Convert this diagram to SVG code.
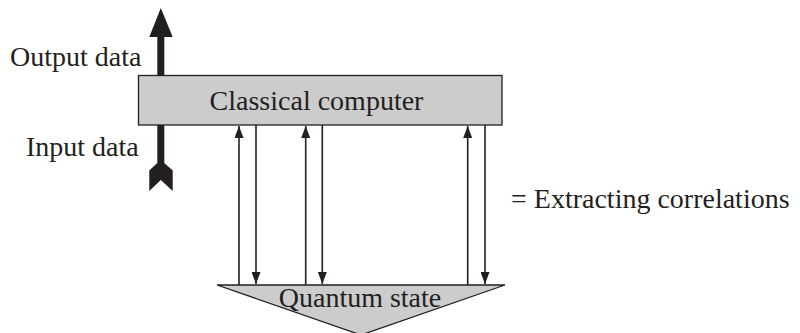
<svg xmlns="http://www.w3.org/2000/svg" width="800" height="333" viewBox="0 0 800 333">
<style>
  text { font-family: "Liberation Serif", "Times New Roman", serif; font-size: 28px; fill: #231f20; }
  .shape { fill: #cccccc; stroke: #231f20; stroke-width: 1.3; }
  .thin { stroke: #231f20; stroke-width: 1.6; fill: none; }
  .thick { fill: #231f20; }
</style>
<defs>
  <marker id="ah" markerUnits="userSpaceOnUse" viewBox="0 0 12 9" refX="12" refY="4.5" markerWidth="12" markerHeight="9" orient="auto">
    <path d="M0,0 L12,4.5 L0,9 Z" fill="#231f20"/>
  </marker>
</defs>
<rect width="800" height="333" fill="#ffffff"/>
<g id="io-arrows">
  <polygon class="thick" points="160.8,8 172.7,37 164.3,37 164.3,76 157.3,76 157.3,37 149.3,37"/>
  <polygon class="thick" points="157.3,124 164.3,124 164.3,163 172.7,170.5 172.7,191 160.8,180 149.3,191 149.3,170.5 157.3,163"/>
</g>
<g id="classical-computer">
  <rect class="shape" x="138.5" y="75.5" width="363.5" height="49.5"/>
  <text x="316.5" y="110" text-anchor="middle">Classical computer</text>
</g>
<g id="quantum-state">
  <polygon class="shape" points="217,285 505,285 361,335"/>
  <text x="360" y="307" text-anchor="middle">Quantum state</text>
</g>
<g id="connectors">
  <line class="thin" x1="239" y1="285" x2="239" y2="126" marker-end="url(#ah)"/>
  <line class="thin" x1="256" y1="125" x2="256" y2="284" marker-end="url(#ah)"/>
  <line class="thin" x1="305.7" y1="285" x2="305.7" y2="126" marker-end="url(#ah)"/>
  <line class="thin" x1="322.3" y1="125" x2="322.3" y2="284" marker-end="url(#ah)"/>
  <line class="thin" x1="467.7" y1="285" x2="467.7" y2="126" marker-end="url(#ah)"/>
  <line class="thin" x1="485" y1="125" x2="485" y2="284" marker-end="url(#ah)"/>
</g>
<g id="labels">
  <text x="10" y="66">Output data</text>
  <text x="26" y="156">Input data</text>
  <text x="511" y="208">= Extracting correlations</text>
</g>
</svg>
